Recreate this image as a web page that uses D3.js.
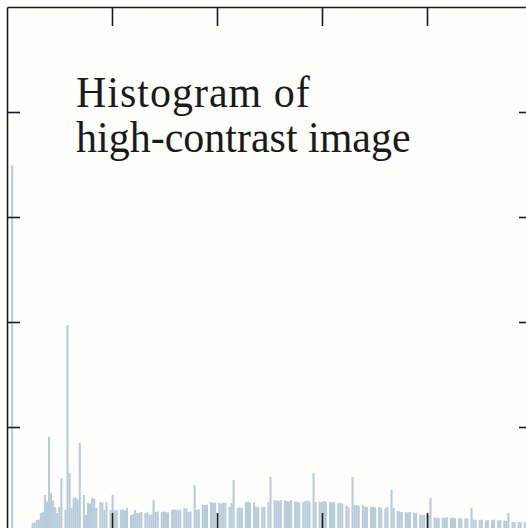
<!DOCTYPE html>
<html>
<head>
<meta charset="utf-8">
<script src="https://cdn.jsdelivr.net/npm/d3@7/dist/d3.min.js"></script>
<style>
  html, body { margin: 0; padding: 0; background: #fdfdfc; }
  svg { display: block; }
</style>
</head>
<body>
<svg id="chart" width="526" height="528"></svg>
<script>
// Pixel counts per gray level (256 bins) after contrast stretching
const counts = [
  0, 0, 3490, 0, 0, 0, 0, 0, 0, 0, 0, 0, 86, 90, 114, 118,
  181, 190, 352, 290, 905, 371, 300, 238, 181, 238, 514, 0, 210, 1971, 562, 229,
  324, 330, 310, 848, 0, 352, 162, 276, 270, 324, 318, 229, 0, 286, 280, 210,
  286, 0, 210, 352, 205, 210, 0, 210, 215, 205, 229, 0, 162, 170, 210, 181,
  181, 190, 0, 181, 185, 162, 165, 305, 190, 195, 0, 190, 195, 190, 185, 0,
  210, 215, 210, 205, 215, 0, 229, 225, 190, 195, 0, 448, 210, 215, 0, 257,
  257, 260, 0, 286, 276, 280, 0, 276, 270, 280, 276, 0, 238, 276, 495, 0,
  229, 235, 229, 0, 286, 290, 280, 0, 286, 238, 238, 0, 240, 238, 0, 286,
  524, 0, 305, 300, 295, 305, 0, 300, 295, 290, 305, 0, 290, 286, 280, 0,
  286, 295, 300, 290, 0, 562, 286, 0, 290, 286, 295, 290, 0, 286, 280, 286,
  0, 276, 276, 270, 0, 250, 238, 0, 524, 257, 255, 250, 0, 257, 240, 238,
  0, 238, 240, 235, 0, 238, 230, 0, 225, 238, 0, 400, 229, 0, 200, 195,
  190, 0, 190, 185, 190, 0, 185, 181, 0, 165, 162, 160, 0, 162, 324, 0,
  138, 140, 133, 0, 138, 135, 140, 0, 133, 138, 130, 0, 133, 128, 0, 130,
  128, 0, 229, 118, 114, 0, 114, 118, 0, 110, 114, 0, 112, 118, 0, 110,
  114, 0, 110, 105, 181, 0, 95, 98, 0, 95, 92, 0, 95, 90, 0, 88
];
const levels = d3.range(counts.length);

// Axis tick positions (normalised intensity and pixel count)
const xTicks = [0.2, 0.4, 0.6, 0.8];
const yTicks = [1000, 2000, 3000, 4000];

const titleLines = ["Histogram of", "high-contrast image"];

const svg = d3.select("#chart");
const plot = { left: 7, top: 7, right: 532, bottom: 532 };

const xBins = d3.scaleBand().domain(levels).range([plot.left, plot.right]).padding(0);
const xAxisScale = d3.scaleLinear().domain([0, 1]).range([plot.left, plot.right]);
const y = d3.scaleLinear().domain([0, 5000]).range([plot.bottom, plot.top]);

svg.append("rect")
  .attr("x", 0).attr("y", 0).attr("width", 526).attr("height", 528)
  .attr("fill", "#fdfdfc");

// Histogram bars
svg.append("g")
  .selectAll("rect")
  .data(levels.filter(i => counts[i] > 0))
  .join("rect")
  .attr("x", i => xBins(i))
  .attr("width", xBins.bandwidth())
  .attr("y", i => y(counts[i]))
  .attr("height", i => y(0) - y(counts[i]))
  .attr("fill", "#b8cbda");

// Frame with inward-pointing ticks on all four sides
function styleAxis(g) {
  g.selectAll(".domain").attr("stroke", "#1b1b1b").attr("stroke-width", 1.6);
  g.selectAll(".tick line").attr("stroke", "#1b1b1b").attr("stroke-width", 1.6);
  g.selectAll(".tick text").remove();
}

svg.append("g").attr("transform", `translate(0,${plot.top})`)
  .call(d3.axisTop(xAxisScale).tickValues(xTicks).tickSizeInner(-19).tickSizeOuter(0).tickFormat(""))
  .call(styleAxis);
svg.append("g").attr("transform", `translate(0,${plot.bottom})`)
  .call(d3.axisBottom(xAxisScale).tickValues(xTicks).tickSizeInner(-19).tickSizeOuter(0).tickFormat(""))
  .call(styleAxis);
svg.append("g").attr("transform", `translate(${plot.left},0)`)
  .call(d3.axisLeft(y).tickValues(yTicks).tickSizeInner(-13).tickSizeOuter(0).tickFormat(""))
  .call(styleAxis);
svg.append("g").attr("transform", `translate(${plot.right},0)`)
  .call(d3.axisRight(y).tickValues(yTicks).tickSizeInner(-13).tickSizeOuter(0).tickFormat(""))
  .call(styleAxis);

// Title inside the plot
svg.append("text")
  .attr("font-family", "'Liberation Serif', 'DejaVu Serif', serif")
  .attr("font-size", 42)
  .attr("fill", "#1a1a1a")
  .attr("transform", "translate(76,0) scale(1,1.06) translate(-76,0)")
  .selectAll("tspan")
  .data(titleLines)
  .join("tspan")
  .attr("x", 76)
  .attr("y", (d, i) => 101 + i * 42.5)
  .attr("letter-spacing", (d, i) => i === 0 ? 1 : 0)
  .text(d => d);
</script>
</body>
</html>
